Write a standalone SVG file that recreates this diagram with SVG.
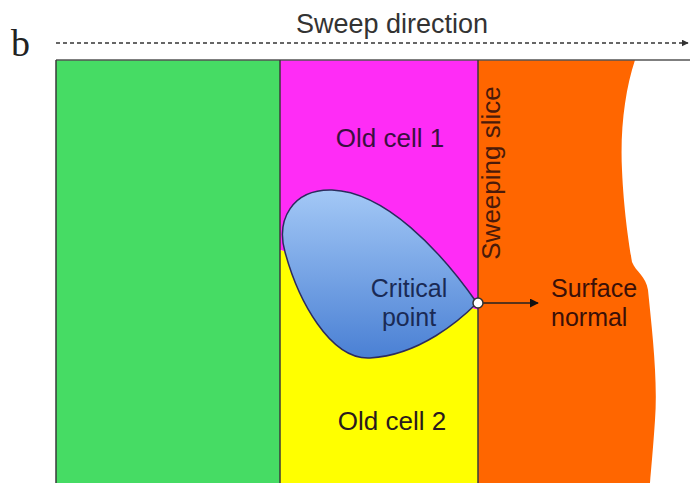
<svg xmlns="http://www.w3.org/2000/svg" width="690" height="483" viewBox="0 0 690 483">
<style>
.lbl{font-family:"Liberation Sans",Arial,sans-serif;font-size:26px;fill:#2a1a1e}
.two{font-size:25px}
.edge{stroke:#3a3a3a;stroke-width:1.5;fill:none}
</style>
<defs>
<linearGradient id="blob" x1="0" y1="0" x2="0" y2="1">
<stop offset="0" stop-color="#a3c8f6"/>
<stop offset="1" stop-color="#4a80d4"/>
</linearGradient>
<marker id="ah" viewBox="0 0 10 10" refX="9" refY="5" markerWidth="9" markerHeight="9" markerUnits="userSpaceOnUse" orient="auto">
<path d="M0,0 L10,5 L0,10 Z" fill="#111"/>
</marker>
<marker id="ah2" viewBox="0 0 10 10" refX="9" refY="5" markerWidth="7" markerHeight="7" markerUnits="userSpaceOnUse" orient="auto">
<path d="M0,0 L10,5 L0,10 Z" fill="#333"/>
</marker>
</defs>
<rect width="690" height="483" fill="#fff"/>
<text x="11" y="56" font-family="Liberation Serif,serif" font-size="38" fill="#222">b</text>
<text x="392" y="33" class="lbl" text-anchor="middle" style="font-size:27px;fill:#333">Sweep direction</text>
<g id="regions">
<g id="green"><rect x="56" y="60" width="224" height="423" fill="#46dc64"/></g>
<g id="oldcell1"><path d="M280,60 H478 V310 L280,250 Z" fill="#ff2cf6"/></g>
<g id="oldcell2"><path d="M280,250 L478,310 V483 H280 Z" fill="#ffff00"/></g>
<g id="orange"><path d="M478,60 H635 C625,90 620,130 622,170 C624,215 630,250 632,262 C636,272 646,276 648,290 C652,330 658,380 655,420 C653,450 651,470 650,483 H478 Z" fill="#ff6600"/></g>
<g id="blobnode"><path d="M477,303 C440,250 385,192 332,190 C292,189 276,220 285,252 C298,300 330,360 370,358 C420,355 460,320 477,303 Z" fill="url(#blob)" stroke="#2c2c5e" stroke-width="1.5"/></g>
</g>
<g id="connectors">
<line x1="56" y1="60" x2="690" y2="60" stroke="#555" stroke-width="1.5"/>
<line x1="56" y1="60" x2="56" y2="483" class="edge"/>
<line x1="280" y1="60" x2="280" y2="483" class="edge"/>
<line x1="478" y1="60" x2="478" y2="483" class="edge"/>
<line x1="56" y1="43" x2="688" y2="43" stroke="#666" stroke-width="2" stroke-dasharray="4,3" marker-end="url(#ah2)"/>
<line x1="483" y1="303" x2="538" y2="303" stroke="#222" stroke-width="1.5" marker-end="url(#ah)"/>
<circle cx="478" cy="303" r="5" fill="#fff" stroke="#333" stroke-width="1.5"/>
</g>
<g id="labels">
<text x="390" y="147" class="lbl" text-anchor="middle" style="fill:#3a1040">Old cell 1</text>
<text x="392" y="430" class="lbl" text-anchor="middle">Old cell 2</text>
<text class="lbl" transform="translate(500,173) rotate(-90)" text-anchor="middle" style="fill:#4a1a0a">Sweeping slice</text>
<text x="409" y="297" class="lbl two" text-anchor="middle" style="fill:#1a2a55">Critical</text>
<text x="409" y="326" class="lbl two" text-anchor="middle" style="fill:#1a2a55">point</text>
<text x="551" y="297" class="lbl two" style="fill:#3a1008">Surface</text>
<text x="551" y="326" class="lbl two" style="fill:#3a1008">normal</text>
</g>
</svg>
